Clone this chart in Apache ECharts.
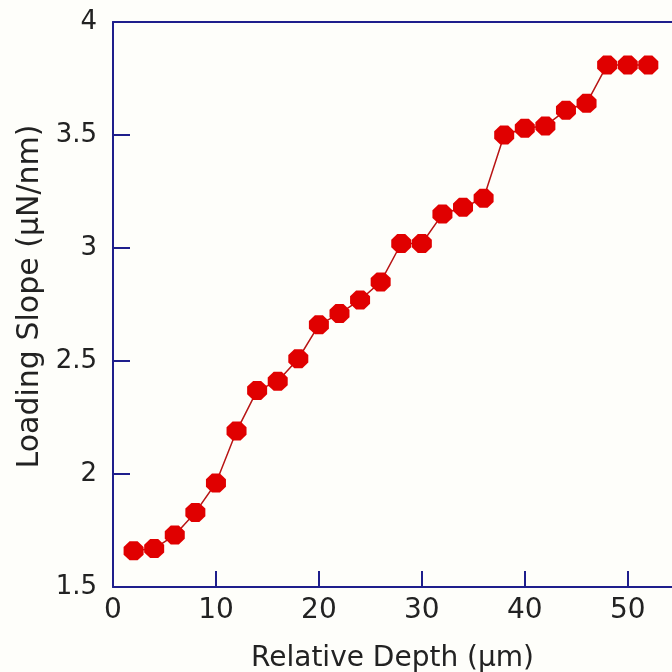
<!DOCTYPE html>
<html>
<head>
<meta charset="utf-8">
<script src="https://cdn.jsdelivr.net/npm/echarts@6/dist/echarts.min.js"></script>
<style>html,body{margin:0;padding:0;background:#fefefa;}#c{width:672px;height:672px;}</style>
</head>
<body>
<div id="c"></div>
<script>
const depth = [2,4,6,8,10,12,14,16,18,20,22,24,26,28,30,32,34,36,38,40,42,44,46,48,50,52];
const slope = [1.66,1.67,1.73,1.83,1.96,2.19,2.37,2.41,2.51,2.66,2.71,2.77,2.85,3.02,3.02,3.15,3.18,3.22,3.50,3.53,3.54,3.61,3.64,3.81,3.81,3.81];
const yTicks = [1.5,2,2.5,3,3.5,4];
const xTitle = 'Relative Depth (µm)';
const yTitle = 'Loading Slope (µN/nm)';

const axisColor = '#1e1e8c';
const textColor = '#222222';
const font = 'DejaVu Sans';
const xMax = 54.3;

const chart = echarts.init(document.getElementById('c'));
chart.setOption({
  backgroundColor: '#fefefa',
  animation: false,
  grid: { left: 113, top: 22, right: 0, bottom: 85, containLabel: false, outerBoundsMode: 'none' },
  xAxis: [{
    type: 'value', min: 0, max: xMax, interval: 10,
    name: xTitle, nameLocation: 'middle', nameGap: 58,
    nameTextStyle: { fontSize: 28, color: textColor, fontFamily: font },
    axisLine: { show: true, lineStyle: { color: axisColor, width: 2 } },
    axisTick: { show: true, inside: true, length: 16, lineStyle: { color: axisColor, width: 2 } },
    axisLabel: { fontSize: 28, color: textColor, fontFamily: font, margin: 10, showMaxLabel: false },
    splitLine: { show: false }
  }, {
    type: 'value', min: 0, max: xMax, position: 'top',
    axisLine: { show: true, lineStyle: { color: axisColor, width: 2 } },
    axisTick: { show: false }, axisLabel: { show: false }, splitLine: { show: false }
  }],
  yAxis: {
    type: 'value', min: yTicks[0], max: yTicks[yTicks.length-1], interval: 0.5,
    name: yTitle, nameLocation: 'middle', nameGap: 63, nameRotate: 90,
    nameTextStyle: { fontSize: 30, color: textColor, fontFamily: font, padding: [0, 0, 0, 16] },
    axisLine: { show: true, lineStyle: { color: axisColor, width: 2 } },
    axisTick: { show: true, inside: true, length: 17, lineStyle: { color: axisColor, width: 2 } },
    axisLabel: { fontSize: 26, color: textColor, fontFamily: font, margin: 16,
      formatter: v => String(+v.toFixed(1)) },
    splitLine: { show: false }
  },
  series: [{
    type: 'line',
    xAxisIndex: 0,
    data: depth.map((d, i) => [d, slope[i]]),
    symbol: 'path://M3,0 L7,0 L10,3 L10,7 L7,10 L3,10 L0,7 L0,3 Z',
    symbolSize: [20, 19],
    itemStyle: { color: '#e00000' },
    lineStyle: { color: '#b81414', width: 1.5 }
  }]
});
</script>
</body>
</html>
